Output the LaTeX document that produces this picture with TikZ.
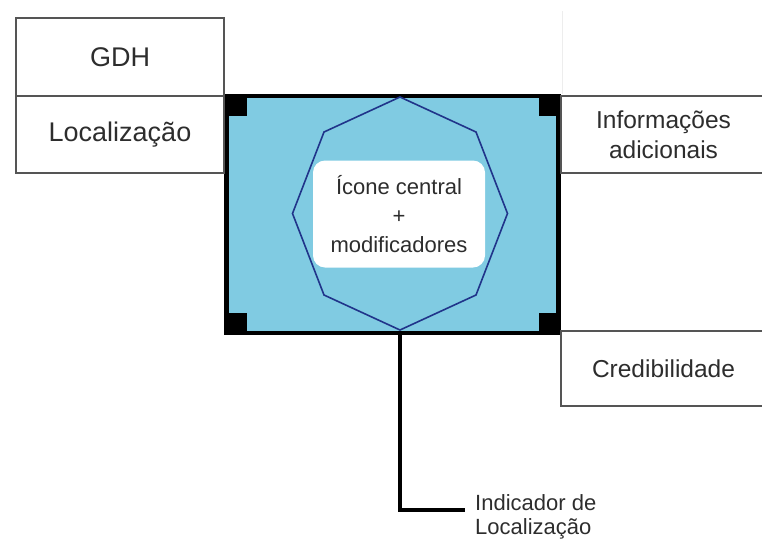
\documentclass[tikz,border=0pt]{standalone}
\usepackage{fontspec}
\setmainfont{Liberation Sans}
\usepackage{xcolor}
\usetikzlibrary{positioning, calc}
\definecolor{symbolblue}{RGB}{128,203,226}
\definecolor{octblue}{RGB}{32,52,138}
\definecolor{textgray}{RGB}{45,45,45}
\definecolor{boxgray}{RGB}{85,85,85}
\tikzstyle{labelbox} = [rectangle, draw=boxgray, line width=2pt, outer sep=0pt, inner sep=0pt, minimum width=208pt, text=textgray, font=\fontsize{27}{32}\selectfont]
\tikzstyle{sidebox} = [rectangle, draw=boxgray, line width=2pt, outer sep=0pt, inner sep=0pt, minimum width=205pt, align=center, text=textgray, font=\fontsize{24.5}{30}\selectfont]
\tikzstyle{symbolframe} = [rectangle, draw=black, line width=4.5pt, fill=symbolblue, outer sep=0pt, inner sep=0pt, minimum width=332pt, minimum height=237pt]
\tikzstyle{corner} = [fill=black]
\tikzstyle{octline} = [draw=octblue, line width=1.6pt]
\tikzstyle{iconbox} = [rectangle, rounded corners=12pt, fill=white, inner sep=0pt, minimum width=172pt, minimum height=107pt, align=center, text=textgray, font=\fontsize{22}{29}\selectfont]
\tikzstyle{pointer} = [line width=4.5pt, draw=black]
\tikzstyle{pointertext} = [inner sep=0pt, align=left, text=textgray, font=\fontsize{22}{24.5}\selectfont]

\begin{document}
\begin{tikzpicture}[x=1pt, y=-1pt]
        \useasboundingbox (0,0) rectangle (762,541);

        % Symbol frame
        \node (frame) [symbolframe, anchor=north west] at (226.5,96) {};
        \fill [corner] (frame.north west) rectangle ++(20,20);
        \fill [corner] (frame.north east) rectangle ++(-20,20);
        \fill [corner] (frame.south west) rectangle ++(20,-20);
        \fill [corner] (frame.south east) rectangle ++(-20,-20);

        % Octagon round the icon
        \coordinate (hub) at (400,213.5);
        \draw [octline] (400,97) -- (476,132) -- (507.5,213.5) -- (476,295) -- (400,330)
            -- (324,295) -- (292.5,213.5) -- (324,132) -- cycle;
        \node (icon) [iconbox] at (399,214) {Ícone central\\+\\modificadores};

        % Fields left
        \node (gdh) [labelbox, minimum height=78pt, anchor=north west] at (16,18) {GDH};
        \node (loc) [labelbox, minimum height=77pt, below=0pt of gdh] {Localização};

        % Fields right
        \draw [black!7] (562,11) -- (562,94);
        \node (info) [sidebox, minimum height=77pt, anchor=north west] at (561,96) {Informações\\adicionais};
        \node (cred) [sidebox, minimum height=75pt, anchor=north west] at (561,331) {Credibilidade};

        % Location indicator
        \coordinate (tail) at (465,510);
        \draw [pointer] (frame.south -| hub) |- (tail);
        \node (ind) [pointertext, anchor=north west] at (475,494) {Indicador de\\Localização};
    \end{tikzpicture}
\end{document}
